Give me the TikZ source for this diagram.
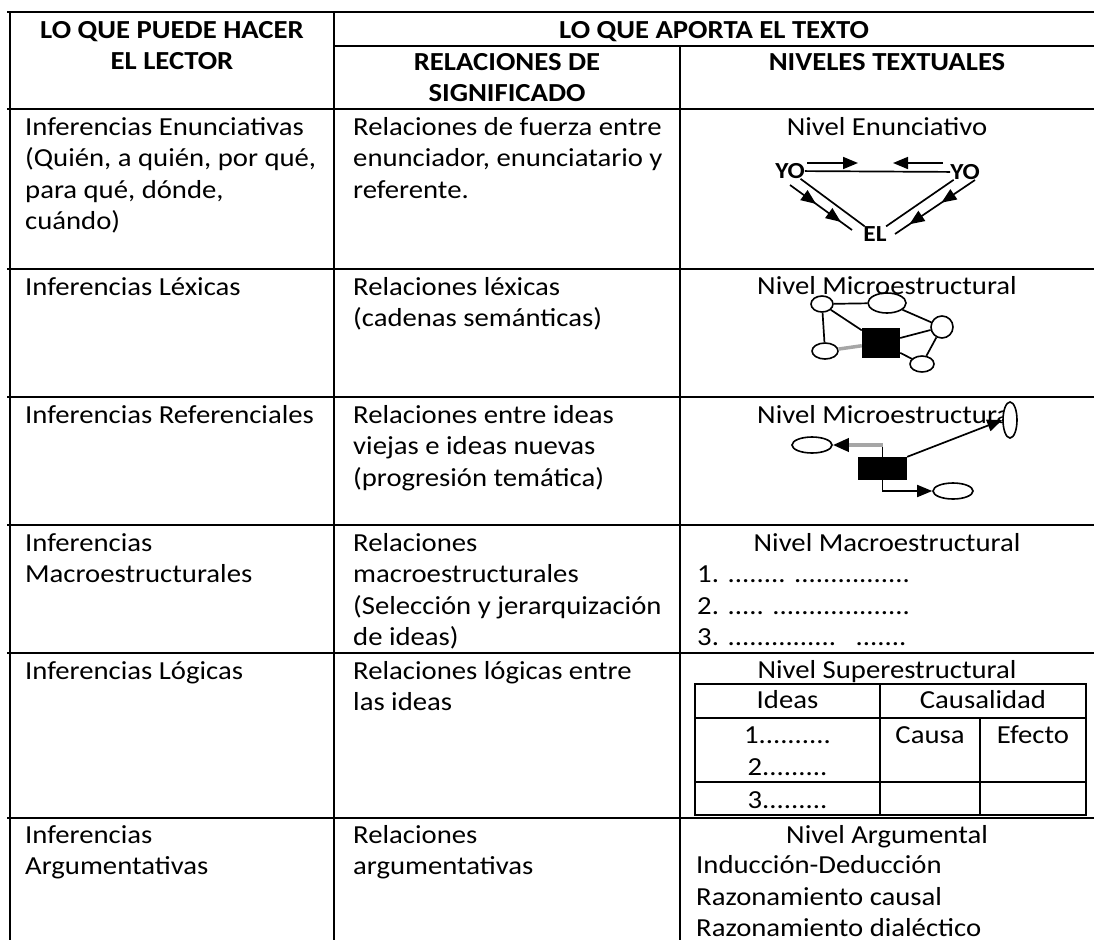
\documentclass[tikz,border=0pt]{standalone}
\usepackage{fontspec}
\setmainfont{Carlito}[FakeStretch=1.104]
\usetikzlibrary{arrows.meta,shapes.geometric,decorations.markings}
\newcommand{\fl}{\rule{0pt}{26pt}}
\begin{document}
\begin{tikzpicture}[x=1pt,y=-1pt,
  grid/.style={line width=2.6pt},
  igrid/.style={line width=2.4pt},
  body/.style={font=\fontsize{26}{31.5}\selectfont, inner sep=0pt},
  lt/.style={body, anchor=north west, align=left},
  ct/.style={body, anchor=north, align=center},
  hd/.style={body, anchor=north, align=center, font=\fontsize{26}{31.5}\selectfont\bfseries},
  cell/.style={body, anchor=base},
  lab/.style={font=\fontsize{23}{23}\selectfont\bfseries, inner sep=0pt},
  edge/.style={line width=1.7pt},
  grayedge/.style={line width=3.5pt, gray!70},
  ell/.style={ellipse, draw, line width=1.6pt, inner sep=0pt},
  blk/.style={rectangle, fill=black, inner sep=0pt},
  tip/.style={-{Triangle[length=15pt,width=12pt]}},
  midarrows/.style={postaction={decorate}, decoration={markings,
     mark=at position 0.42 with {\arrow{Triangle[length=15pt,width=12pt]}},
     mark=at position 0.82 with {\arrow{Triangle[length=15pt,width=12pt]}}}}
]
\useasboundingbox (0,0) rectangle (1094,940);
\fill[white] (0,0) rectangle (1094,940);

% ---- table grid ----
\draw[grid] (7,12) -- (1094,12);
\draw[grid] (334,46) -- (1094,46);
\foreach \yy in {109,269,397,525,653,818} {\draw[grid] (7,\yy) -- (1094,\yy);}
\draw[grid] (10,12) -- (10,940);
\draw[grid] (334,12) -- (334,940);
\draw[grid] (680,46) -- (680,940);

% ---- header ----
\node[hd] (h1) at (172,12) {\fl LO QUE PUEDE HACER\\EL LECTOR};
\node[hd] (h2) at (714,12) {\fl LO QUE APORTA EL TEXTO};
\node[hd] (h3) at (507,44) {\fl RELACIONES DE\\SIGNIFICADO};
\node[hd] (h4) at (887,44) {\fl NIVELES TEXTUALES};

% ---- column 1 ----
\node[lt] (a1) at (25,109) {\fl Inferencias Enunciativas\\(Quién, a quién, por qué,\\para qué, dónde,\\cuándo)};
\node[lt] (a2) at (25,269) {\fl Inferencias Léxicas};
\node[lt] (a3) at (25,397) {\fl Inferencias Referenciales};
\node[lt] (a4) at (25,525) {\fl Inferencias\\Macroestructurales};
\node[lt] (a5) at (25,653) {\fl Inferencias Lógicas};
\node[lt] (a6) at (25,817) {\fl Inferencias\\Argumentativas};

% ---- column 2 ----
\node[lt] (b1) at (353,109) {\fl Relaciones de fuerza entre\\enunciador, enunciatario y\\referente.};
\node[lt] (b2) at (353,269) {\fl Relaciones léxicas\\(cadenas semánticas)};
\node[lt] (b3) at (353,397) {\fl Relaciones entre ideas\\viejas e ideas nuevas\\(progresión temática)};
\node[lt] (b4) at (353,525) {\fl Relaciones\\macroestructurales\\(Selección y jerarquización\\de ideas)};
\node[lt] (b5) at (353,653) {\fl Relaciones lógicas entre\\las ideas};
\node[lt] (b6) at (353,817) {\fl Relaciones\\argumentativas};

% ---- column 3 titles ----
\node[ct] (n1) at (887,109) {\fl Nivel Enunciativo};
\node[ct] (n2) at (887,268) {\fl Nivel Microestructural};
\node[ct] (n3) at (887,397) {\fl Nivel Microestructural};
\node[ct] (n4) at (887,525) {\fl Nivel Macroestructural};
\node[ct] (n5) at (887,652) {\fl Nivel Superestructural};
\node[ct] (n6) at (887,817) {\fl Nivel Argumental};

% ---- row 1: triangle ----
\node[lab] (yoL) at (790,171) {YO};
\node[lab] (yoR) at (965,172) {YO};
\node[lab] (el) at (875,234) {EL};
\draw[edge] (yoL) -- (yoR);
\draw[edge] (yoL) -- (el);
\draw[edge] (yoR) -- (el);
\coordinate (p1) at (807,163);
\coordinate (p2) at (858,163);
\coordinate (p3) at (943,163);
\coordinate (p4) at (893,163);
\draw[edge,tip] (p1) -- (p2);
\draw[edge,tip] (p3) -- (p4);
\coordinate (q1) at (790,185);
\coordinate (q2) at (852,230);
\coordinate (q3) at (975,180);
\coordinate (q4) at (895,234);
\draw[edge,midarrows] (q1) -- (q2);
\draw[edge,midarrows] (q3) -- (q4);

% ---- row 2: network ----
\node[ell, minimum width=22pt, minimum height=16pt] (eA) at (822,304) {};
\node[ell, minimum width=38pt, minimum height=20pt] (eB) at (887,303) {};
\node[ell, minimum width=22pt, minimum height=22pt] (eC) at (942,327) {};
\node[ell, minimum width=26pt, minimum height=16pt] (eD) at (825,351) {};
\node[ell, minimum width=24pt, minimum height=16pt] (eE) at (922,364) {};
\node[blk, minimum width=38pt, minimum height=30pt] (sA) at (881,343) {};
\draw[edge] (eA) -- (eB);
\draw[edge] (eA) -- (eD);
\draw[edge] (eA) -- (sA);
\draw[edge] (eB) -- (eC);
\draw[edge] (sA) -- (eC);
\draw[edge] (sA) -- (eE);
\draw[edge] (eC) -- (eE);
\draw[grayedge] (eD) -- (sA);

% ---- row 3: progression ----
\node[ell, fill=white, minimum width=40pt, minimum height=16pt] (fL) at (812,445) {};
\node[blk, minimum width=49pt, minimum height=23pt] (sB) at (882.5,468.5) {};
\node[ell, fill=white, minimum width=14pt, minimum height=36pt] (fV) at (1010,420) {};
\node[ell, fill=white, minimum width=40pt, minimum height=16pt] (fR) at (953,491) {};
\coordinate (k1) at (882.5,445);
\draw[edge] (sB.north) -- (k1);
\draw[grayedge, -{Triangle[black,length=16pt,width=13pt]}] (k1) -- (fL.east);
\draw[edge, tip] (sB.north east) -- (fV.west);
\draw[edge, tip] (sB.south) |- (fR.west);

% ---- row 4: list ----
\node[lt] (m1) at (697,556.5) {\fl 1. ........ ................\\2. ..... ...................\\3. ...............~~~.......};

% ---- row 5: inner table ----
\draw[igrid] (695,684) rectangle (1086,815);
\draw[igrid] (695,718) -- (1086,718);
\draw[igrid] (695,782) -- (1086,782);
\draw[igrid] (880,684) -- (880,815);
\draw[igrid] (980,718) -- (980,815);
\node[cell] (t1) at (787.5,708) {Ideas};
\node[cell] (t2) at (983,708) {Causalidad};
\node[cell] (t3) at (930,743) {Causa};
\node[cell] (t4) at (1033,743) {Efecto};
\node[cell] (t5) at (787.5,743) {1..........};
\node[cell] (t6) at (787.5,775) {2.........};
\node[cell] (t7) at (787.5,808) {3.........};

% ---- row 6: list ----
\node[lt] (g1) at (696,847.5) {\fl Inducción-Deducción\\Razonamiento causal\\Razonamiento dialéctico};
\end{tikzpicture}
\end{document}
